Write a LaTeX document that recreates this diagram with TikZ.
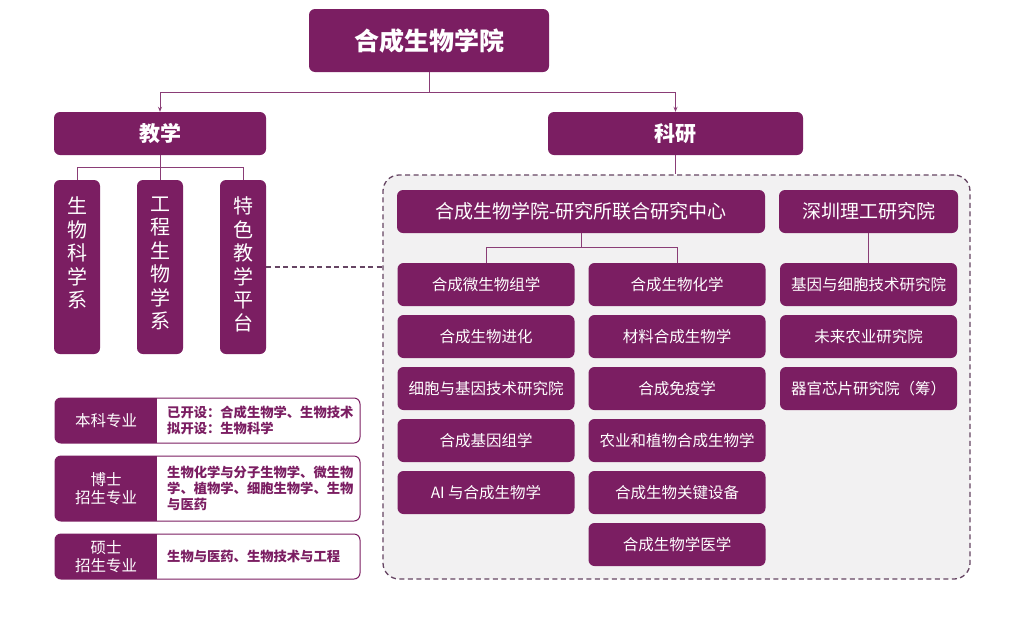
\documentclass[tikz,border=0pt]{standalone}
\usepackage{fontspec}
\setmainfont{Noto Sans CJK SC}
\usetikzlibrary{arrows.meta}
\definecolor{pp}{HTML}{7B1E62}
\definecolor{ln}{HTML}{8A3D76}
\definecolor{pnl}{HTML}{F2F1F2}
\definecolor{dsh}{HTML}{664563}
\begin{document}
\begin{tikzpicture}[x=1pt,y=-1pt,
  box/.style={fill=pp, rounded corners=6pt, inner sep=0pt, text=white, align=center},
  topbox/.style={box, minimum width=240pt, minimum height=63pt, font=\fontsize{25}{30}\selectfont\bfseries},
  secbox/.style={box, minimum height=43pt, font=\fontsize{21}{25}\selectfont\bfseries},
  vbox/.style={box, minimum width=46pt, minimum height=174pt},
  vtext/.style={inner sep=0pt, text=white, align=center, anchor=north, font=\fontsize{20}{23.4}\selectfont},
  hbox/.style={box, minimum height=43pt, font=\fontsize{19}{23}\selectfont},
  cbox/.style={box, minimum width=177pt, minimum height=43pt, font=\fontsize{15.5}{19}\selectfont},
  conn/.style={draw=ln, line width=0.9pt},
  arr/.style={conn, -{Stealth[length=5pt,width=4pt]}},
  dashconn/.style={draw=dsh, line width=1.3pt, dash pattern=on 5pt off 3.5pt},
  infobox/.style={draw=pp, line width=1pt, rounded corners=6pt, inner sep=0pt},
  ltext/.style={inner sep=0pt, text=white, align=center, font=\fontsize{15.5}{18}\selectfont},
  rtext/.style={inner sep=0pt, text=pp, align=left, anchor=west, font=\fontsize{13.3}{16.3}\selectfont\bfseries}
]
\useasboundingbox (0,0) rectangle (1024,643);
\fill[white] (0,0) rectangle (1024,643);

% top
\node[topbox] (top) at (429,40.5) {合成生物学院};
\node[secbox, minimum width=212pt] (teach) at (160,133.5) {教学};
\node[secbox, minimum width=255pt] (res) at (675.5,133.5) {科研};
\draw[arr] (top.south) -- ++(0,20) -| (teach.north);
\draw[arr] (top.south) -- ++(0,20) -| (res.north);

% teaching departments
\node[vbox] (v1) at (77,267) {};
\node[vbox] (v2) at (160,267) {};
\node[vbox] (v3) at (243,267) {};
\node[vtext] (v1t) at ([yshift=-17pt]v1.north) {生\\物\\科\\学\\系};
\node[vtext] (v2t) at ([yshift=-17pt]v2.north) {工\\程\\生\\物\\学\\系};
\node[vtext] (v3t) at ([yshift=-17pt]v3.north) {特\\色\\教\\学\\平\\台};
\draw[conn] (teach.south) -- ++(0,12) -| (v1.north);
\draw[conn] (teach.south) -- (v2.north);
\draw[conn] (teach.south) -- ++(0,12) -| (v3.north);

% research panel
\node[draw=dsh, fill=pnl, line width=1.3pt, dash pattern=on 5pt off 3.5pt, rounded corners=16pt,
      minimum width=587pt, minimum height=404pt, inner sep=0pt] (panel) at (676.5,377) {};
\draw[conn] (res.south) -- (res.south |- panel.north);
\draw[dashconn] (v3.east) -- (v3.east -| panel.west);

\node[hbox, minimum width=368pt] (joint) at (581,211.5) {合成生物学院-研究所联合研究中心};
\node[hbox, minimum width=179pt] (deep) at (868.5,211.5) {深圳理工研究院};

\node[cbox] (c11) at (486,284.5) {合成微生物组学};
\node[cbox] (c12) at (486,336.5) {合成生物进化};
\node[cbox] (c13) at (486,388.5) {细胞与基因技术研究院};
\node[cbox] (c14) at (486,440.5) {合成基因组学};
\node[cbox] (c15) at (486,492.5) {AI 与合成生物学};

\node[cbox] (c21) at (677,284.5) {合成生物化学};
\node[cbox] (c22) at (677,336.5) {材料合成生物学};
\node[cbox] (c23) at (677,388.5) {合成免疫学};
\node[cbox] (c24) at (677,440.5) {农业和植物合成生物学};
\node[cbox] (c25) at (677,492.5) {合成生物关键设备};
\node[cbox] (c26) at (677,544.5) {合成生物学医学};

\node[cbox] (c31) at (868.5,284.5) {基因与细胞技术研究院};
\node[cbox] (c32) at (868.5,336.5) {未来农业研究院};
\node[cbox] (c33) at (868.5,388.5) {器官芯片研究院（筹）};

\draw[conn] (joint.south) -- ++(0,14) -| (c11.north);
\draw[conn] (joint.south) -- ++(0,14) -| (c21.north);
\draw[conn] (deep.south) -- (c31.north);

% info boxes
\begin{scope}
  \clip[rounded corners=6pt] (55,398) rectangle (360,443);
  \fill[pp] (55,398) rectangle (157,443);
\end{scope}
\node[infobox, minimum width=305pt, minimum height=45pt] (i1) at (207.5,420.5) {};
\node[ltext] (i1l) at (106,420.5) {本科专业};
\node[rtext] (i1r) at (167,420.5) {已开设：合成生物学、生物技术\\拟开设：生物科学};

\begin{scope}
  \clip[rounded corners=6pt] (55,456) rectangle (360,521);
  \fill[pp] (55,456) rectangle (157,521);
\end{scope}
\node[infobox, minimum width=305pt, minimum height=65pt] (i2) at (207.5,488.5) {};
\node[ltext] (i2l) at (106,488.5) {博士\\招生专业};
\node[rtext] (i2r) at (167,488.5) {生物化学与分子生物学、微生物\\学、植物学、细胞生物学、生物\\与医药};

\begin{scope}
  \clip[rounded corners=6pt] (55,534) rectangle (360,579);
  \fill[pp] (55,534) rectangle (157,579);
\end{scope}
\node[infobox, minimum width=305pt, minimum height=45pt] (i3) at (207.5,556.5) {};
\node[ltext] (i3l) at (106,556.5) {硕士\\招生专业};
\node[rtext] (i3r) at (167,556.5) {生物与医药、生物技术与工程};
\end{tikzpicture}
\end{document}
